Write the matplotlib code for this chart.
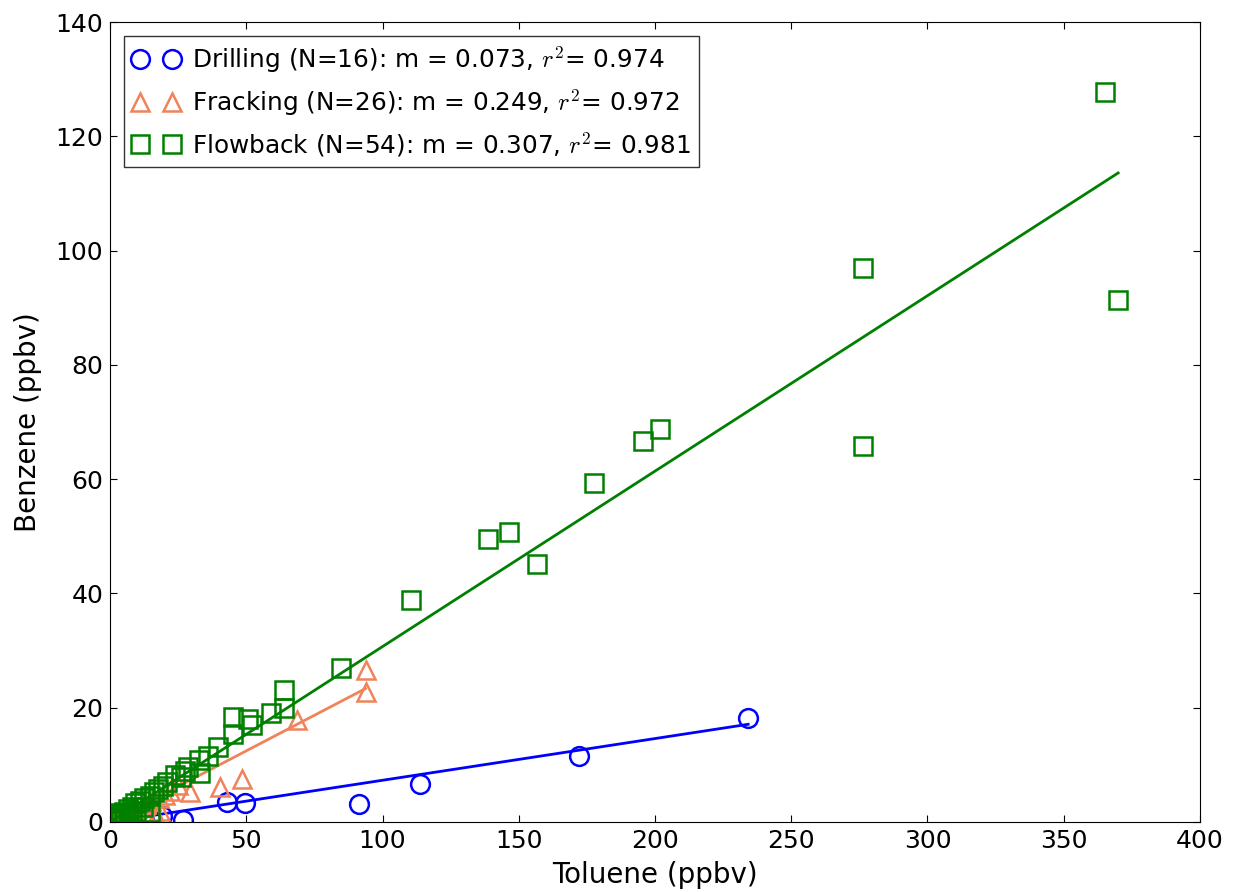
import numpy as np
import matplotlib
matplotlib.use('Agg')
import matplotlib.pyplot as plt

plt.rcParams['mathtext.fontset'] = 'cm'
plt.rcParams['font.family'] = ['DejaVu Sans']

# Drilling (blue circles)
drill_x = [234.2, 172.0, 113.6, 91.2, 49.6, 43.0, 26.8, 19.0, 15.0, 12.0,
           9.0, 7.0, 5.0, 3.0, 2.0, 1.0]
drill_y = [18.2, 11.6, 6.7, 3.2, 3.3, 3.5, 0.4, 1.0, 0.3, 0.8,
           0.5, 0.4, 0.3, 0.2, 0.1, 0.1]

# Fracking (orange triangles)
frack_x = [93.75, 93.75, 68.75, 48.5, 40.4, 29.4, 25.0, 22.0, 20.0, 18.0,
           17.0, 18.5, 15.0, 13.0, 12.0, 10.0, 9.0, 8.0, 6.5, 5.0,
           4.0, 3.0, 2.0, 1.5, 1.0, 0.5]
frack_y = [26.6, 22.8, 17.8, 7.6, 6.2, 5.2, 6.5, 5.5, 4.8, 4.2,
           1.0, 2.0, 3.6, 3.1, 2.6, 2.4, 2.0, 1.8, 1.5, 1.2,
           0.9, 0.7, 0.5, 0.4, 0.3, 0.15]

# Flowback (green squares)
flow_x = [365.0, 370.0, 276.5, 276.5, 201.8, 195.6, 177.6, 156.6, 146.3, 138.6,
          110.3, 84.6, 64.0, 64.0, 59.0, 50.7, 52.2, 45.2, 45.0, 39.5,
          36.0, 32.5, 33.0, 28.5, 27.5, 26.0, 24.0, 21.0, 19.5, 17.5,
          16.0, 14.5, 12.5, 11.0, 9.0, 8.0, 6.5, 5.0, 4.0, 3.0,
          2.5, 2.0, 1.5, 1.0, 0.8, 3.5, 5.5, 7.0, 1.2, 0.5,
          2.2, 12.0, 14.7, 9.5]
flow_y = [127.8, 91.4, 97.0, 65.8, 68.8, 66.6, 59.3, 45.2, 50.8, 49.6,
          38.9, 27.0, 23.1, 20.0, 19.1, 18.1, 17.0, 18.4, 15.4, 13.2,
          11.5, 10.8, 8.6, 9.6, 9.0, 7.8, 8.2, 7.0, 6.3, 5.8,
          5.2, 4.6, 4.2, 3.6, 3.3, 2.6, 2.2, 1.8, 1.4, 1.1,
          0.8, 0.6, 0.5, 0.3, 0.2, 0.8, 1.2, 1.5, 0.9, 0.4,
          1.6, 2.6, 1.75, 2.0]

labels = ['Drilling (N=16): m = 0.073, $r^2$= 0.974',
          'Fracking (N=26): m = 0.249, $r^2$= 0.972',
          'Flowback (N=54): m = 0.307, $r^2$= 0.981']
slopes = [0.073, 0.249, 0.307]
colors = ['#0000ff', '#f0835a', '#008000']
markers = ['o', '^', 's']

fig = plt.figure(figsize=(12.37, 8.92), dpi=100)
ax = fig.add_axes([0.089, 0.0785, 0.881, 0.8968])

groups = [(drill_x, drill_y), (frack_x, frack_y), (flow_x, flow_y)]
for (gx, gy), lab, m, c, mk in zip(groups, labels, slopes, colors, markers):
    gx = np.array(gx)
    ax.plot(gx, gy, linestyle='none', marker=mk, markersize=13.5 if mk != 's' else 13,
            mfc='none', mec=c, mew=1.8, label=lab)
    xs = np.array([0, gx.max()])
    ax.plot(xs, m * xs, color=c, linewidth=2.0)

ax.set_xlim(0, 400)
ax.set_ylim(0, 140)
ax.set_xticks(np.arange(0, 401, 50))
ax.set_yticks(np.arange(0, 141, 20))
ax.tick_params(direction='in', top=True, right=True, labelsize=18, length=5, pad=5)
ax.set_xlabel('Toluene (ppbv)', fontsize=20, labelpad=6)
ax.set_ylabel('Benzene (ppbv)', fontsize=20, labelpad=10)

leg = ax.legend(loc='upper left', numpoints=2, fontsize=17.8, handlelength=1.9,
                handletextpad=0.5, labelspacing=0.5, borderpad=0.35,
                borderaxespad=0.55, fancybox=False)
leg.get_frame().set_edgecolor('black')
leg.get_frame().set_linewidth(1.0)

fig.savefig('out.png', dpi=100)
